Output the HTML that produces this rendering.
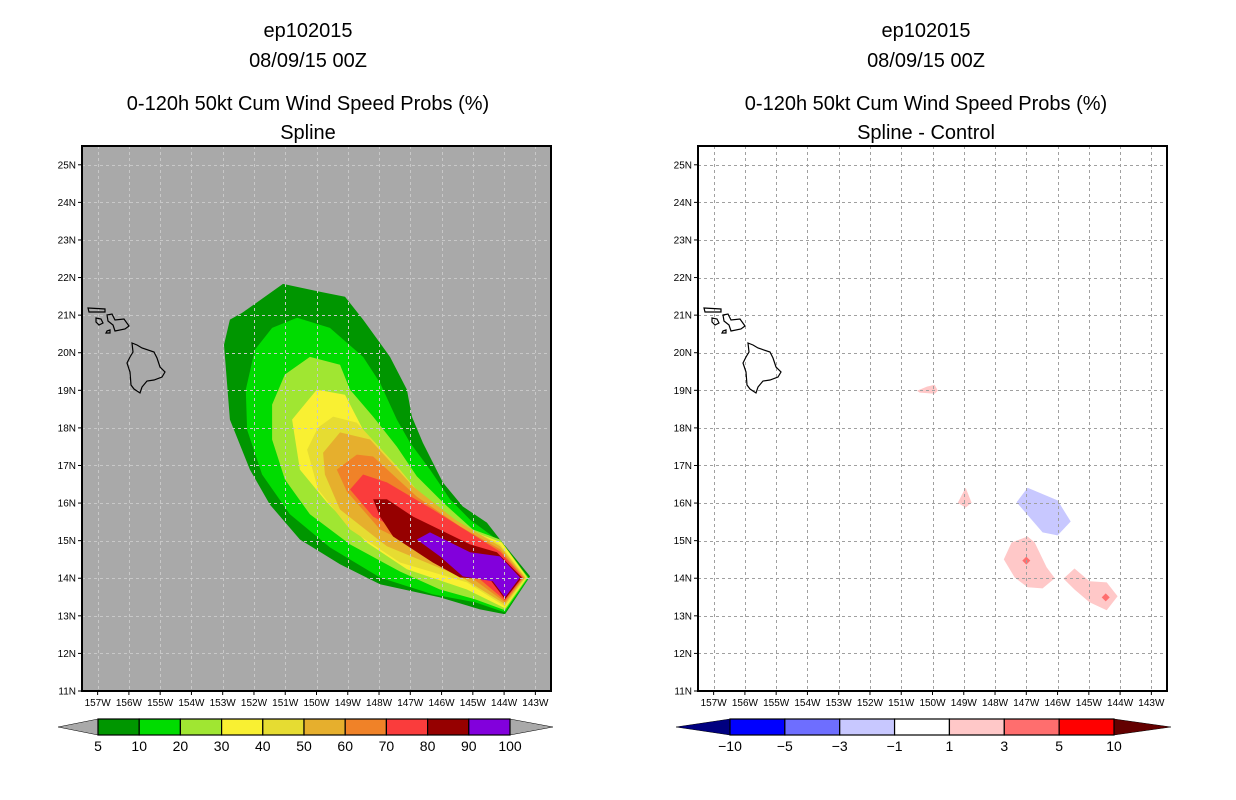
<!DOCTYPE html>
<html><head><meta charset="utf-8">
<style>
body{margin:0;background:#fff;}
svg{display:block;font-family:"Liberation Sans",sans-serif;}
</style></head>
<body>
<svg id="chart" width="1236" height="800" viewBox="0 0 1236 800">
<g font-size="20" text-anchor="middle" fill="#000">
<text x="308" y="37">ep102015</text>
<text x="308" y="67">08/09/15 00Z</text>
<text x="308" y="110">0-120h 50kt Cum Wind Speed Probs (%)</text>
<text x="308" y="139">Spline</text>
</g>
<g font-size="20" text-anchor="middle" fill="#000">
<text x="926" y="37">ep102015</text>
<text x="926" y="67">08/09/15 00Z</text>
<text x="926" y="110">0-120h 50kt Cum Wind Speed Probs (%)</text>
<text x="926" y="139">Spline - Control</text>
</g>
<g id="left"></g>
<g id="right"></g>
<g id="cbL"></g>
<g id="cbR"></g>
</svg>
<script>
// ---- data (lon in degrees W, lat in degrees N) ----
const probLevels = [5,10,20,30,40,50,60,70,80,90,100];
const probColors = ["#009600","#00dc00","#a0e632","#f9f032","#e6dc32","#e6af2d","#f08228","#fa3c3c","#960000","#8200dc"];
const c5Lon=[152.38,151.07,149.89,149.09,148.51,147.65,147.11,146.95,146.60,145.96,145.32,144.55,144.13,143.17,143.97,144.77,146.05,147.97,149.25,150.53,151.49,152.13,152.77,152.96,152.77];
const c5Lat=[21.06,21.83,21.62,21.49,20.88,19.89,19.02,18.30,17.61,16.55,15.91,15.48,15.03,14.05,13.04,13.17,13.49,13.84,14.37,15.03,15.96,16.89,18.22,20.21,20.88];
const c10Lon=[150.62,149.57,148.51,147.97,147.43,147.01,146.37,145.73,145.09,144.36,143.21,143.97,144.93,146.28,147.97,149.57,150.85,151.74,152.22,152.26,151.97,151.42];
const c10Lat=[20.93,20.66,19.89,19.20,18.22,17.61,16.89,16.10,15.56,15.11,14.02,13.09,13.36,13.57,14.02,14.82,15.70,16.76,17.95,19.02,20.08,20.66];
const c20Lon=[150.21,149.25,148.93,148.19,147.43,146.79,145.96,145.00,144.13,143.24,143.97,144.93,146.05,147.33,148.93,150.21,151.01,151.42,151.42,151.01];
const c20Lat=[19.89,19.68,19.02,18.30,17.50,16.71,16.02,15.30,15.03,14.02,13.15,13.44,13.70,14.18,14.90,15.70,16.63,17.69,18.62,19.42];
const c30Lon=[149.99,149.09,148.51,147.65,146.91,146.05,145.19,144.07,143.27,143.97,145.19,147.11,148.39,149.67,150.53,150.78];
const c30Lat=[19.02,18.88,17.95,17.08,16.17,15.83,15.30,14.95,14.02,13.20,13.70,14.24,14.95,16.02,16.89,18.22];
const c40Lon=[149.47,148.71,147.33,146.28,144.13,143.30,143.97,145.19,147.33,148.93,149.95,150.30,149.95];
const c40Lat=[18.30,18.14,16.89,15.83,14.90,14.02,13.25,13.89,14.42,15.30,16.36,17.42,18.01];
const c50Lon=[149.25,148.29,146.91,145.57,144.13,143.33,143.97,145.41,147.75,149.25,149.73,149.79];
const c50Lat=[17.88,17.69,16.44,15.56,14.85,14.02,13.31,14.05,14.85,15.83,16.76,17.34];
const c60Lon=[148.71,148.19,146.79,145.41,144.13,143.37,143.97,145.41,147.97,149.03,149.35];
const c60Lat=[17.29,17.24,16.17,15.38,14.77,14.02,13.36,14.24,15.30,16.31,16.89];
const c70Lon=[148.51,147.75,146.28,144.13,143.40,143.97,145.41,148.19,148.93];
const c70Lat=[16.76,16.55,15.83,14.71,14.02,13.41,14.42,15.64,16.36];
const c80Lon=[148.19,147.75,146.91,145.09,144.23,143.43,143.97,144.45,145.41,146.28,147.55,147.97];
const c80Lat=[16.10,16.10,15.64,14.90,14.69,14.02,13.44,13.97,14.02,14.42,15.11,15.64];
const c90Lon=[146.79,146.37,145.09,144.13,143.49,143.97,144.36,145.32,146.05];
const c90Lat=[15.03,15.22,14.69,14.58,14.02,13.49,13.92,14.05,14.58];
const probLons=[c5Lon,c10Lon,c20Lon,c30Lon,c40Lon,c50Lon,c60Lon,c70Lon,c80Lon,c90Lon];
const probLats=[c5Lat,c10Lat,c20Lat,c30Lat,c40Lat,c50Lat,c60Lat,c70Lat,c80Lat,c90Lat];

const diffLevels=[-10,-5,-3,-1,1,3,5,10];
const diffColors=["#000080","#0000ff","#6e6eff","#c8c8ff","#ffffff","#ffc8c8","#ff6e6e","#ff0000","#640000"];
const dALon=[150.50,150.18,149.93,149.83,149.93,150.41]; const dALat=[18.99,19.10,19.15,18.99,18.91,18.94];
const dBLon=[148.94,148.75,148.94,149.19]; const dBLat=[16.41,16.01,15.88,16.01];
const dCLon=[146.96,146.00,145.58,146.00,146.48,147.31]; const dCLat=[16.41,16.07,15.51,15.14,15.22,16.02];
const dDLon=[146.96,146.73,146.35,146.09,146.48,146.96,147.37,147.72,147.47]; const dDLat=[15.11,14.95,14.29,14.00,13.73,13.76,14.02,14.50,14.95];
const dELon=[145.46,144.98,144.43,144.08,144.43,144.98,145.46,145.81]; const dELat=[14.26,13.92,13.89,13.52,13.15,13.36,13.70,13.99];
const diffLons=[dALon,dBLon,dCLon,dDLon,dELon];
const diffLats=[dALat,dBLat,dCLat,dDLat,dELat];
const diffVals=[2,2,-2,2,2];
const peakLon=[147.0,144.46]; const peakLat=[14.47,13.49]; const peakVals=[4,4];

const lonTicks=[157,156,155,154,153,152,151,150,149,148,147,146,145,144,143];
const latTicks=[25,24,23,22,21,20,19,18,17,16,15,14,13,12,11];

// ---- helpers ----
const NS="http://www.w3.org/2000/svg";
function mk(tag,attrs,parent){const e=document.createElementNS(NS,tag);for(const k in attrs)e.setAttribute(k,attrs[k]);parent.appendChild(e);return e;}
const Y0=146,Y1=691,LAT0=25.5,LAT1=11;
function yS(lat){return Y0+(LAT0-lat)/(LAT0-LAT1)*(Y1-Y0);}
function makeX(x0){return lon=>x0+(157.5-lon)/15*469;}
const islands=[
[[50,197],[55,199],[60,202],[72,206],[75,212],[78,221],[83,226],[80,231],[72,234],[65,235],[60,241],[58,247],[52,243],[49,239],[48,226],[45,217],[48,211],[51,206]],
[[25,169],[30,168],[33,174],[42,173],[47,180],[43,183],[33,185],[31,179],[26,175]],
[[6,162],[23,163],[23,166],[7,166]],
[[14,172],[19,173],[21,177],[17,179],[14,176]],
[[25,185],[28,184],[28,187],[24,187]]
];
function colorFor(v){let i=0;while(i<diffLevels.length&&v>diffLevels[i])i++;return diffColors[i];}

function panel(g,x0,bg,gridCol,isLeft){
  const xS=makeX(x0);
  mk('rect',{x:x0,y:Y0,width:469,height:Y1-Y0,fill:bg},g);
  const cg=mk('g',{},g);
  
  
  if(isLeft){
    probLons.forEach((lons,i)=>{
      const pts=lons.map((lo,j)=>xS(lo).toFixed(1)+','+yS(probLats[i][j]).toFixed(1)).join(' ');
      const p=mk('polygon',{points:pts,fill:probColors[i]},cg);
      
      
    });
  } else {
    diffLons.forEach((lons,i)=>{
      const pts=lons.map((lo,j)=>xS(lo).toFixed(1)+','+yS(diffLats[i][j]).toFixed(1)).join(' ');
      const p=mk('polygon',{points:pts,fill:colorFor(diffVals[i])},cg);
      
      
    });
    peakLon.forEach((lo,i)=>{
      const cx=xS(lo),cy=yS(peakLat[i]),r=4;
      const p=mk('polygon',{points:`${cx},${cy-r} ${cx+r},${cy} ${cx},${cy+r} ${cx-r},${cy}`,fill:colorFor(peakVals[i])},cg);
      
      
    });
  }
  const gg=mk('g',{stroke:gridCol,'stroke-width':1,'stroke-dasharray':'3,3'},g);
  
  
  lonTicks.forEach(l=>{const x=Math.round(xS(l))+0.5;mk('line',{x1:x,y1:Y0,x2:x,y2:Y1},gg);});
  latTicks.forEach(l=>{const y=Math.round(yS(l))+0.5;mk('line',{x1:x0,y1:y,x2:x0+469,y2:y},gg);});
  const ig=mk('g',{fill:'none',stroke:'#000','stroke-width':1.2},g);
  
  
  islands.forEach(is=>mk('polygon',{points:is.map(p=>(x0+p[0])+','+(Y0+p[1])).join(' ')},ig));
  const fr=mk('rect',{x:x0,y:Y0,width:469,height:Y1-Y0,fill:'none',stroke:'#000','stroke-width':2},g);
  
  
  const tg=mk('g',{'font-size':10,fill:'#000'},g);
  
  
  latTicks.forEach(l=>{const y=yS(l);mk('line',{x1:x0-4,y1:y,x2:x0,y2:y,stroke:'#000'},tg);
    const t=mk('text',{x:x0-6,y:y+3.5,'text-anchor':'end'},tg);t.textContent=l+'N';});
  lonTicks.forEach(l=>{const x=xS(l);mk('line',{x1:x,y1:Y1,x2:x,y2:Y1+4,stroke:'#000'},tg);
    const t=mk('text',{x:x,y:Y1+15,'text-anchor':'middle'},tg);t.textContent=l+'W';});
}
panel(document.getElementById('left'),82,'#a9a9a9','#c8c8c8',true);
panel(document.getElementById('right'),698,'#ffffff','#a0a0a0',false);

function colorbar(g,xl,x0,x1,xr,boxColors,labels,triLcol,triRcol){
  const n=boxColors.length;
  const w=(x1-x0)/n, yt=719, yb=735, ym=727;
  mk('polygon',{points:`${xl},${ym} ${x0},${yt} ${x0},${yb}`,fill:triLcol,stroke:'#000','stroke-width':0.5},g);
  mk('polygon',{points:`${xr},${ym} ${x1},${yt} ${x1},${yb}`,fill:triRcol,stroke:'#000','stroke-width':0.5},g);
  for(let i=0;i<n;i++){
    const r=mk('rect',{x:x0+i*w,y:yt,width:w,height:yb-yt,fill:boxColors[i],stroke:'#000','stroke-width':1.2},g);
    
    
  }
  labels.forEach((lb,i)=>{const t=mk('text',{x:x0+i*w,y:751,'text-anchor':'middle','font-size':14},g);t.textContent=String(lb).replace('-','\u2212');});
}
colorbar(document.getElementById('cbL'),58,98,510,553,probColors,probLevels,'#a9a9a9','#a9a9a9');
colorbar(document.getElementById('cbR'),676,730,1114,1171,diffColors.slice(1,-1),diffLevels,diffColors[0],diffColors[diffColors.length-1]);
</script>
</body></html>
